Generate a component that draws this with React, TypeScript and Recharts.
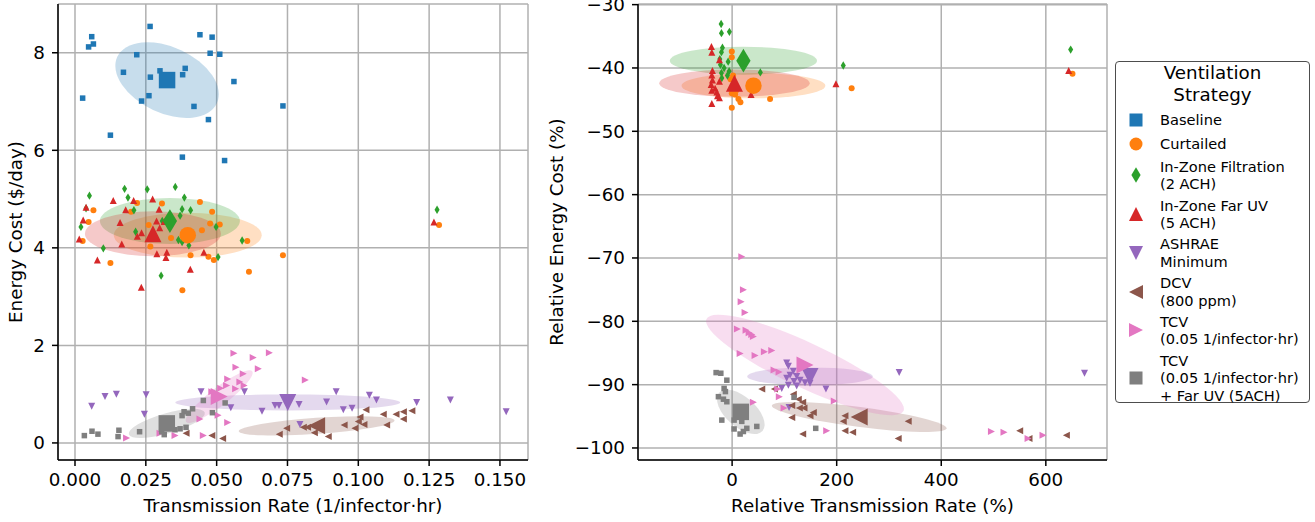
import React from 'react';
import { ScatterChart, Scatter, XAxis, YAxis, CartesianGrid } from 'recharts';

const FONT = '"DejaVu Sans", sans-serif';

// ---- strategies ----
const strategyNames = [
  'Baseline',
  'Curtailed',
  'In-Zone Filtration\n(2 ACH)',
  'In-Zone Far UV\n(5 ACH)',
  'ASHRAE\nMinimum',
  'DCV\n(800 ppm)',
  'TCV\n(0.05 1/infector\u00b7hr)',
  'TCV\n(0.05 1/infector\u00b7hr)\n+ Far UV (5ACH)',
];
const strategyColors = ['#1f77b4', '#ff7f0e', '#2ca02c', '#d62728', '#9467bd', '#8c564b', '#e377c2', '#7f7f7f'];
const strategyMarkers = ['square', 'circle', 'diamond', 'up', 'down', 'left', 'right', 'square'];

// ---- left panel: transmission rate (1/infector·hr) vs energy cost ($/day) ----
const baselineAbs = [
  [0.0265, 8.54], [0.0059, 8.33], [0.0065, 8.18], [0.0048, 8.12], [0.0441, 8.37], [0.0484, 8.32],
  [0.0477, 7.99], [0.0511, 7.97], [0.0218, 7.96], [0.0171, 7.6], [0.03, 7.63], [0.0266, 7.5],
  [0.0389, 7.68], [0.038, 7.55], [0.0561, 7.41], [0.0027, 7.07], [0.0261, 7.12], [0.0235, 7.01],
  [0.042, 6.9], [0.0734, 6.91], [0.0471, 6.63], [0.0125, 6.31], [0.0379, 5.86], [0.0528, 5.79],
];
const curtailedAbs = [
  [0.0219, 4.92], [0.0307, 4.91], [0.0441, 4.94], [0.0065, 4.77], [0.0484, 4.74], [0.0198, 4.74],
  [0.0048, 4.53], [0.0477, 4.5], [0.0511, 4.48], [0.026, 4.47], [0.0448, 4.36], [0.0339, 4.2],
  [0.0027, 4.14], [0.0608, 4.14], [0.0266, 4.03], [0.0408, 3.85], [0.0471, 3.82], [0.049, 3.75],
  [0.0734, 3.85], [0.0125, 3.69], [0.0614, 3.51], [0.0379, 3.13], [0.1285, 4.47],
];
const filtrationAbs = [
  [0.0051, 5.07], [0.0175, 5.21], [0.0187, 5.03], [0.0255, 5.2], [0.0354, 5.25], [0.0386, 5.03],
  [0.0378, 4.79], [0.0408, 4.77], [0.0371, 4.66], [0.0208, 4.77], [0.0039, 4.81], [0.0308, 4.55],
  [0.0021, 4.43], [0.0214, 4.33], [0.0498, 4.43], [0.0365, 4.16], [0.0378, 4.12], [0.0402, 4.05],
  [0.059, 4.15], [0.01, 3.99], [0.0505, 3.81], [0.0304, 3.43], [0.1278, 4.78],
];
const farUvAbs = [
  [0.0135, 4.97], [0.0207, 4.97], [0.0274, 5.0], [0.0039, 4.83], [0.0179, 4.78], [0.0297, 4.79],
  [0.0029, 4.57], [0.0159, 4.52], [0.0288, 4.55], [0.0315, 4.54], [0.0299, 4.41], [0.0235, 4.31],
  [0.022, 4.24], [0.0015, 4.18], [0.0395, 4.19], [0.0165, 4.08], [0.0289, 3.88], [0.0324, 3.91],
  [0.0321, 3.8], [0.0455, 3.91], [0.0079, 3.75], [0.0407, 3.56], [0.0234, 3.19], [0.1267, 4.53],
];
const ashraeAbs = [
  [0.0059, 0.75], [0.0106, 0.95], [0.0146, 1.0], [0.0251, 0.99], [0.0245, 0.59], [0.0445, 1.05],
  [0.055, 0.72], [0.0598, 1.05], [0.066, 0.65], [0.0706, 0.77], [0.072, 0.77], [0.0791, 0.79],
  [0.0794, 0.38], [0.0888, 0.84], [0.0922, 1.05], [0.0947, 0.68], [0.0978, 0.71], [0.1039, 0.98],
  [0.1064, 0.88], [0.1206, 0.83], [0.1325, 0.88], [0.1522, 0.64],
];
const dcvAbs = [
  [0.1027, 0.68], [0.1159, 0.64], [0.1189, 0.66], [0.1159, 0.49], [0.1133, 0.59], [0.1088, 0.59],
  [0.11, 0.37], [0.1006, 0.53], [0.102, 0.38], [0.1, 0.44], [0.0988, 0.3], [0.095, 0.37],
  [0.0865, 0.37], [0.0821, 0.32], [0.0806, 0.32], [0.0845, 0.21], [0.0894, 0.13], [0.0747, 0.3],
  [0.0721, 0.18], [0.0521, 0.09], [0.0483, 0.15], [0.0392, 0.2],
];
const tcvAbs = [
  [0.0561, 1.84], [0.0629, 1.75], [0.0686, 1.85], [0.0568, 1.55], [0.0647, 1.52], [0.0594, 1.42],
  [0.0813, 1.29], [0.0539, 1.31], [0.0582, 1.25], [0.0597, 1.18], [0.0514, 1.12], [0.0535, 1.18],
  [0.0567, 1.11], [0.0483, 1.05], [0.0441, 0.49], [0.0505, 0.57], [0.0539, 0.42], [0.03, 0.2],
  [0.0353, 0.15], [0.0453, 0.15], [0.0182, 0.1],
];
const tcvUvAbs = [
  [0.0033, 0.15], [0.006, 0.24], [0.0081, 0.18], [0.0155, 0.26], [0.0152, 0.13], [0.0228, 0.23],
  [0.0453, 0.87], [0.053, 0.82], [0.0485, 0.62], [0.0415, 0.7], [0.0385, 0.64], [0.0378, 0.56],
  [0.0353, 0.27], [0.0371, 0.29], [0.0392, 0.32], [0.0315, 0.17], [0.0306, 0.23], [0.04, 0.61],
];
const meanAbs = [
  [0.0325, 7.44], [0.0398, 4.26], [0.0335, 4.55], [0.0275, 4.29],
  [0.0751, 0.83], [0.0853, 0.35], [0.0509, 0.95], [0.0324, 0.4],
];
// ellipse semi-axis vectors [ux, uy, vx, vy] in data units
const ellipseAbs = [
  [0.01758, -0.476, -0.00494, -0.613],
  [0.0261, 0, 0, 0.46],
  [0.0247, 0, 0, 0.47],
  [0.024, 0, 0, 0.46],
  [0.0397, 0, 0, 0.164],
  [0.0275, 0.111, 0.0002, -0.164],
  [0.01165, 0.519, 0.00194, -0.146],
  [0.0134, 0.224, 0.00097, -0.197],
];

// ---- right panel: relative transmission rate (%) vs relative energy cost (%) ----
const curtailedRel = [
  [-0.6, -37.4], [-0.6, -38.3], [1.9, -41.2], [-0.6, -44.0], [5.7, -44.2], [12.1, -44.9],
  [15.9, -45.4], [-0.6, -46.3], [72.6, -44.9], [228.6, -43.2], [651, -40.9], [8, -43.5], [-3, -41.8],
];
const filtrationRel = [
  [-21, -33.05], [-20.4, -34.5], [-5.2, -34.3], [-18.5, -36.8], [-20.4, -37.5], [-23.5, -38.6],
  [-7.6, -39.0], [-22.3, -39.5], [-15.3, -40.0], [-20.4, -40.8], [-9, -41.2], [-5.7, -40.5],
  [-19.7, -41.6], [54, -40.7], [212.6, -39.6], [647.5, -37.1],
];
const farUvRel = [
  [-39.5, -36.6], [-38.8, -37.5], [-24.2, -38.7], [-37.6, -40.4], [-38.8, -41.1], [-37.6, -41.9],
  [-24.2, -42.1], [-40, -42.6], [-32.5, -43.2], [-38.8, -43.5], [-29.2, -43.8], [-28, -44.4],
  [-24.2, -44.7], [-38.8, -45.6], [36.3, -44.2], [198.6, -42.5], [643.7, -40.4],
];
const ashraeRel = [
  [104.4, -86.6], [107.6, -87.1], [117.1, -87.9], [110.8, -88.5], [123.5, -88.7], [104.4, -89.0],
  [129.9, -89.3], [118.4, -89.5], [107.6, -90.1], [123.5, -90.2], [94.9, -90.6], [179.5, -90.7],
  [319.6, -88.1], [108.9, -93.6], [139.4, -89.7], [149, -89.8], [674, -88.2],
];
const dcvRel = [
  [56.7, -90.7], [80.8, -90.7], [117.1, -91.5], [126.6, -92.3], [135, -92.8], [114, -93.3],
  [128.5, -93.7], [137.5, -93.7], [155.3, -94.4], [149, -94.9], [114, -95.2], [215.8, -94.9],
  [212.6, -95.8], [336.7, -95.8], [215.8, -97.3], [230.5, -97.5], [135, -97.8], [317.6, -98.5],
  [550, -97.3], [639.3, -98.0], [567.8, -98.5],
];
const tcvRel = [
  [18.5, -69.8], [21.6, -75.0], [17.2, -76.9], [24.8, -78.6], [10.1, -81.2], [26.7, -81.4],
  [32.5, -81.8], [37.6, -82.1], [40.7, -82.4], [15.3, -85.1], [43.9, -85.4], [61.7, -84.8],
  [75.8, -84.6], [80.2, -87.7], [89.8, -88.0], [87.3, -90.7], [90.3, -91.9], [40.7, -92.8],
  [99.3, -93.7], [195.4, -92.6], [180.9, -97.3], [496, -97.4], [520, -97.5], [566, -98.5], [594.6, -98.0],
];
const tcvUvRel = [
  [-30.6, -88.1], [-21.6, -88.2], [-10.1, -89.3], [-15.3, -90.6], [-12.8, -91.1], [-26.2, -91.9],
  [-16.6, -92.3], [-10.1, -92.7], [-19.7, -95.6], [3.8, -95.6], [18.5, -95.8], [3.8, -97.0],
  [21.6, -97.4], [15.3, -97.8], [28.1, -96.9], [47.2, -96.6], [118.4, -92.0], [159.9, -96.9], [9, -94.0],
];
const meanRel = [
  null, [40.8, -42.8], [21.6, -38.85], [4.5, -42.4],
  [149, -88.7], [243, -95.1], [139.4, -86.9], [16.6, -94.3],
];
const ellipseRel = [
  null,
  [137.5, 0, 0, -2.0],
  [140.7, 0, 0, -2.21],
  [143.9, 0, 0, -2.16],
  [120, 0, 0, -1.42],
  [167.1, -1.79, -2.5, -1.56],
  [188.3, -7.27, -18.1, -3.21],
  [41.5, -3.03, -18.9, -1.77],
];

const absSeries = [baselineAbs, curtailedAbs, filtrationAbs, farUvAbs, ashraeAbs, dcvAbs, tcvAbs, tcvUvAbs];
const relSeries = [null, curtailedRel, filtrationRel, farUvRel, ashraeRel, dcvRel, tcvRel, tcvUvRel];

const absXTicks = [0, 0.025, 0.05, 0.075, 0.1, 0.125, 0.15];
const absYTicks = [0, 2, 4, 6, 8];
const relXTicks = [0, 200, 400, 600];
const relYTicks = [-100, -90, -80, -70, -60, -50, -40, -30];

// ---- markers ----
function Marker({ kind, cx, cy, size, color }: any) {
  const h = size / 2;
  if (cx == null || cy == null) return <g />;
  switch (kind) {
    case 'square':
      return <rect x={cx - h} y={cy - h} width={size} height={size} fill={color} />;
    case 'circle':
      return <circle cx={cx} cy={cy} r={h} fill={color} />;
    case 'diamond': {
      const t = size * 0.7, w = size * 0.42;
      return <polygon points={`${cx},${cy - t} ${cx + w},${cy} ${cx},${cy + t} ${cx - w},${cy}`} fill={color} />;
    }
    case 'up':
      return <polygon points={`${cx},${cy - h} ${cx + h},${cy + h} ${cx - h},${cy + h}`} fill={color} />;
    case 'down':
      return <polygon points={`${cx},${cy + h} ${cx + h},${cy - h} ${cx - h},${cy - h}`} fill={color} />;
    case 'left':
      return <polygon points={`${cx - h},${cy} ${cx + h},${cy - h} ${cx + h},${cy + h}`} fill={color} />;
    case 'right':
      return <polygon points={`${cx + h},${cy} ${cx - h},${cy - h} ${cx - h},${cy + h}`} fill={color} />;
    default:
      return <g />;
  }
}

const SMALL = { square: 5.5, circle: 6, diamond: 6, up: 7, down: 7, left: 7, right: 7 } as any;
const BIG = { square: 16.5, circle: 16.5, diamond: 17, up: 17, down: 17, left: 17, right: 17 } as any;

const toPts = (arr: number[][]) => arr.map(([x, y]) => ({ x, y }));

// ellipse drawn as the affine image of a unit circle; the three points are
// centre, centre+u and centre+v, all placed by the chart's own scales
const ellipseLine = (color: string) => (props: any) => {
  const p = props.points;
  if (!p || p.length < 3) return <g />;
  const [c, a, b] = p;
  return (
    <circle
      cx={0}
      cy={0}
      r={1}
      fill={color}
      fillOpacity={0.25}
      stroke="none"
      transform={`matrix(${a.x - c.x} ${a.y - c.y} ${b.x - c.x} ${b.y - c.y} ${c.x} ${c.y})`}
    />
  );
};

const minus = (v: number) => String(v).replace('-', '\u2212');

function Panel({ series, means, ellipses, xDomain, yDomain, xTicks, yTicks, xFmt, yFmt, xLabel, yLabel, width, yWidth, marginRight, yLabelOffset }: any) {
  const axisStroke = { stroke: '#000', strokeWidth: 1.5 };
  const tickStyle = { fontSize: 18.3, fill: '#000', fontFamily: FONT };
  const labelStyle = { fontSize: 18.3, fill: '#000', fontFamily: FONT, textAnchor: 'middle' as const };
  return (
    <ScatterChart width={width} height={522} margin={{ top: 4, right: marginRight, bottom: 0, left: 0 }}>
      <CartesianGrid stroke="#b0b0b0" strokeWidth={1.5} />
      <XAxis
        type="number"
        dataKey="x"
        domain={xDomain}
        ticks={xTicks}
        allowDataOverflow
        interval={0}
        height={62}
        tickSize={6}
        tickMargin={7}
        tickFormatter={xFmt}
        tick={tickStyle}
        axisLine={axisStroke}
        tickLine={axisStroke}
        label={{ value: xLabel, position: 'insideBottom', offset: 10, style: labelStyle }}
      />
      <YAxis
        type="number"
        dataKey="y"
        domain={yDomain}
        ticks={yTicks}
        allowDataOverflow
        interval={0}
        width={yWidth}
        tickSize={6}
        tickMargin={7}
        tickFormatter={yFmt}
        tick={tickStyle}
        axisLine={axisStroke}
        tickLine={axisStroke}
        label={{ value: yLabel, angle: -90, position: 'insideLeft', offset: yLabelOffset, style: labelStyle }}
      />
      <XAxis xAxisId="top" orientation="top" type="number" domain={xDomain} allowDataOverflow height={0} tick={false} tickLine={false} axisLine={axisStroke} />
      <YAxis yAxisId="right" orientation="right" type="number" domain={yDomain} allowDataOverflow width={0} tick={false} tickLine={false} axisLine={axisStroke} />
      {ellipses.map((e: number[] | null, i: number) => {
        const m = means[i];
        if (!e || !m) return null;
        const data = [
          { x: m[0], y: m[1] },
          { x: m[0] + e[0], y: m[1] + e[1] },
          { x: m[0] + e[2], y: m[1] + e[3] },
        ];
        return (
          <Scatter
            key={`ell-${i}`}
            data={data}
            shape={() => <g />}
            line={ellipseLine(strategyColors[i])}
            isAnimationActive={false}
          />
        );
      })}
      {series.map((s: number[][] | null, i: number) =>
        s ? (
          <Scatter
            key={`pts-${i}`}
            data={toPts(s)}
            isAnimationActive={false}
            shape={(p: any) => <Marker kind={strategyMarkers[i]} cx={p.cx} cy={p.cy} size={SMALL[strategyMarkers[i]]} color={strategyColors[i]} />}
          />
        ) : null
      )}
      {means.map((m: number[] | null, i: number) =>
        m ? (
          <Scatter
            key={`mean-${i}`}
            data={[{ x: m[0], y: m[1] }]}
            isAnimationActive={false}
            shape={(p: any) => <Marker kind={strategyMarkers[i]} cx={p.cx} cy={p.cy} size={BIG[strategyMarkers[i]]} color={strategyColors[i]} />}
          />
        ) : null
      )}
    </ScatterChart>
  );
}

function LegendBox() {
  return (
    <div
      style={{
        position: 'absolute',
        left: 1115,
        top: 61,
        width: 195,
        height: 342,
        boxSizing: 'border-box',
        border: '1.3px solid #4d4d4d',
        borderRadius: 4,
        background: '#fff',
        fontFamily: FONT,
        color: '#000',
      }}
    >
      <div style={{ textAlign: 'center', fontSize: 18.3, lineHeight: '22px', marginTop: 0 }}>
        Ventilation
        <br />
        Strategy
      </div>
      <div style={{ marginTop: 3.7 }}>
        {strategyNames.map((name, i) => (
          <div key={name + i} style={{ display: 'flex', alignItems: 'center', marginTop: i === 0 ? 0 : 4 }}>
            <svg width={44} height={20} style={{ flex: '0 0 auto' }}>
              <Marker
                kind={strategyMarkers[i]}
                cx={20}
                cy={10}
                size={strategyMarkers[i] === 'diamond' ? 11 : strategyMarkers[i] === 'square' || strategyMarkers[i] === 'circle' ? 13 : 14}
                color={strategyColors[i]}
              />
            </svg>
            <div style={{ fontSize: 14.6, lineHeight: '17.4px', whiteSpace: 'pre-line' }}>{name}</div>
          </div>
        ))}
      </div>
    </div>
  );
}

export default function App() {
  return (
    <div style={{ position: 'absolute', left: 0, top: 0, width: 1315, height: 522, background: '#fff', fontFamily: FONT }}>
      <div style={{ position: 'absolute', left: 0, top: 0 }}>
        <Panel
          series={absSeries}
          means={meanAbs}
          ellipses={ellipseAbs}
          xDomain={[-0.006, 0.1599]}
          yDomain={[-0.35, 9.0]}
          xTicks={absXTicks}
          yTicks={absYTicks}
          xFmt={(v: number) => v.toFixed(3)}
          yFmt={(v: number) => String(v)}
          xLabel={'Transmission Rate (1/infector\u00b7hr)'}
          yLabel="Energy Cost ($/day)"
          width={540}
          yWidth={58}
          marginRight={12}
          yLabelOffset={16}
        />
      </div>
      <div style={{ position: 'absolute', left: 540, top: 0 }}>
        <Panel
          series={relSeries}
          means={meanRel}
          ellipses={ellipseRel}
          xDomain={[-180, 717]}
          yDomain={[-101.9, -29.9]}
          xTicks={relXTicks}
          yTicks={relYTicks}
          xFmt={minus}
          yFmt={minus}
          xLabel="Relative Transmission Rate (%)"
          yLabel="Relative Energy Cost (%)"
          width={570}
          yWidth={98}
          marginRight={3}
          yLabelOffset={17}
        />
      </div>
      <LegendBox />
    </div>
  );
}
